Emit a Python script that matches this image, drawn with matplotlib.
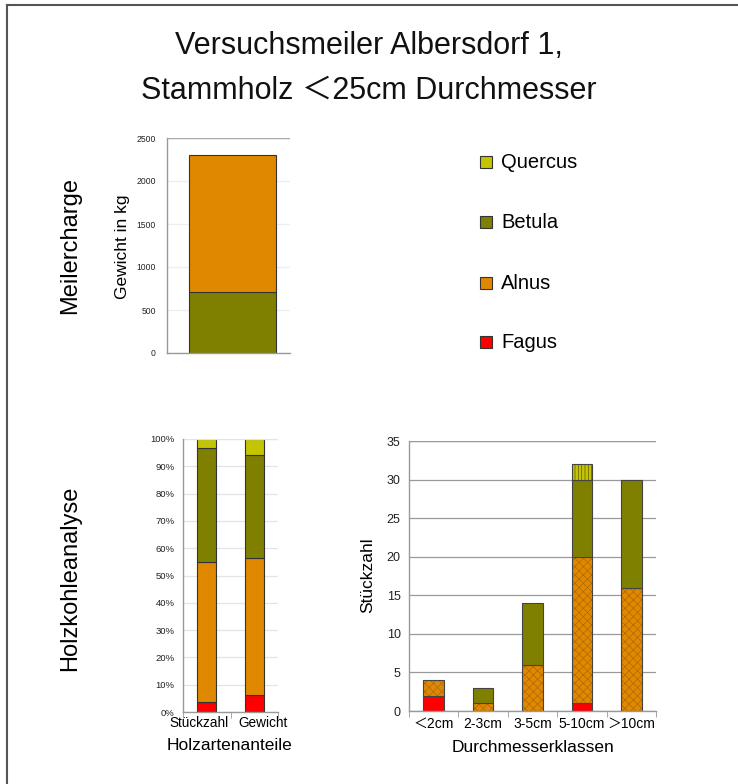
import matplotlib
matplotlib.use("Agg")
import matplotlib.pyplot as plt
from matplotlib.patches import Rectangle
from matplotlib.lines import Line2D
from matplotlib.transforms import ScaledTranslation
import numpy as np

plt.rcParams['font.family'] = ['Liberation Sans', 'Noto Sans CJK JP', 'DejaVu Sans']
plt.rcParams['hatch.linewidth'] = 0.5

# ---------------- data ----------------
title_lines = ["Versuchsmeiler Albersdorf 1,", "Stammholz ＜25cm Durchmesser"]

species = ['Fagus', 'Alnus', 'Betula', 'Quercus']
species_colors = {'Fagus': '#ff0000', 'Alnus': '#e08800', 'Betula': '#808000', 'Quercus': '#c4c400'}

# Meilercharge (kg), stacked bottom to top
charge_species = ['Betula', 'Alnus']
charge_kg = [710, 1590]
charge_ticks = [0, 500, 1000, 1500, 2000, 2500]

# Holzartenanteile (%)
anteil_categories = ['Stückzahl', 'Gewicht']
anteil_fagus = [3.5, 6.2]
anteil_alnus = [51.3, 50.1]
anteil_betula = [41.9, 37.7]
anteil_quercus = [3.3, 6.0]

# Durchmesserklassen (Stückzahl)
diam_classes = ['＜2cm', '2-3cm', '3-5cm', '5-10cm', '＞10cm']
count_fagus = [2, 0, 0, 1, 0]
count_alnus = [2, 1, 6, 19, 16]
count_betula = [0, 2, 8, 10, 14]
count_quercus = [0, 0, 0, 2, 0]

# ---------------- layout helpers ----------------
W, H = 738, 784
fig = plt.figure(figsize=(W / 100, H / 100), dpi=100)
fig.patch.set_facecolor('white')

def fx(x):
    return x / W

def fy(y):
    return 1 - y / H

def axes_px(x0, y0, x1, y1):
    return fig.add_axes([fx(x0), fy(y1), fx(x1) - fx(x0), (y1 - y0) / H])

# border (top and left)
fig.add_artist(Line2D([fx(7), fx(738)], [fy(5), fy(5)], color='#555555', lw=1.5))
fig.add_artist(Line2D([fx(7), fx(7)], [fy(5), fy(784)], color='#555555', lw=1.5))

# title
fig.text(0.5, fy(46), title_lines[0], ha='center', va='center', fontsize=22, color='#111111')
fig.text(0.5, fy(91), title_lines[1], ha='center', va='center', fontsize=22, color='#111111')

# section labels
fig.text(fx(70), fy(246), 'Meilercharge', rotation=90, ha='center', va='center', fontsize=17)
fig.text(fx(70), fy(578), 'Holzkohleanalyse', rotation=90, ha='center', va='center', fontsize=17)

def style_axes(ax, gridcolor):
    for s in ['top', 'right']:
        ax.spines[s].set_visible(False)
    for s in ['left', 'bottom']:
        ax.spines[s].set_color('#999999')
        ax.spines[s].set_linewidth(1.0)
    ax.set_axisbelow(True)
    ax.yaxis.grid(True, color=gridcolor, lw=0.9)
    ax.tick_params(axis='y', length=0, colors='#222222')

# ---------------- top chart ----------------
ax1 = axes_px(167, 138, 290, 353)
style_axes(ax1, '#eeeeee')
bottom = 0
for sp, v in zip(charge_species, charge_kg):
    ax1.bar([0], [v], bottom=bottom, width=0.77, color=species_colors[sp],
            edgecolor='#333333', linewidth=0.8)
    bottom += v
ax1.set_xlim(-0.58, 0.51)
ax1.set_ylim(0, 2500)
ax1.set_yticks(charge_ticks)
ax1.tick_params(axis='y', labelsize=6.2, pad=8)
ax1.set_xticks([])
ax1.axhline(2500, color='#aaaaaa', lw=1.0)
fig.text(fx(122), fy(247), 'Gewicht in kg', rotation=90, ha='center', va='center', fontsize=12.5)

# legend
legend_rows = [('Quercus', 162), ('Betula', 222), ('Alnus', 283), ('Fagus', 342)]
for name, yc in legend_rows:
    fig.add_artist(Rectangle((fx(480), fy(yc + 6)), 12 / W, 12 / H,
                             facecolor=species_colors[name], edgecolor='#333333', lw=0.8))
    fig.text(fx(501), fy(yc), name, ha='left', va='center', fontsize=14.5)

# ---------------- bottom-left chart ----------------
ax2 = axes_px(183, 439, 278, 712)
style_axes(ax2, '#e4e4e4')
x2 = np.arange(len(anteil_categories))
bottom = np.zeros(len(anteil_categories))
for sp, vals in zip(species, [anteil_fagus, anteil_alnus, anteil_betula, anteil_quercus]):
    vals = np.array(vals)
    ax2.bar(x2, vals, bottom=bottom, width=0.4, color=species_colors[sp],
            edgecolor='#333333', linewidth=0.8)
    bottom += vals
ax2.set_xlim(-0.5, 1.5)
ax2.set_ylim(0, 100)
ax2.set_yticks(np.arange(0, 101, 10))
ax2.set_yticklabels([f'{v}%' for v in range(0, 101, 10)])
ax2.tick_params(axis='y', labelsize=6.8, pad=6)
ax2.set_xticks(x2)
ax2.set_xticklabels(anteil_categories, fontsize=9.8)
ax2.tick_params(axis='x', length=0, pad=3)
# spread the two category labels apart so they do not collide
for lbl, dx in zip(ax2.get_xticklabels(), [-8, 9]):
    lbl.set_transform(lbl.get_transform() + ScaledTranslation(dx / 100, 0, fig.dpi_scale_trans))
ax2.set_xticks([-0.5, 0.5, 1.5], minor=True)
ax2.tick_params(axis='x', which='minor', length=4, color='#999999', direction='out')
ax2.axhline(100, color='#e4e4e4', lw=0.9)
fig.text(fx(230), fy(746), 'Holzartenanteile', ha='center', va='center', fontsize=12.5)

# ---------------- bottom-right chart ----------------
ax3 = axes_px(409, 441, 656, 711)
style_axes(ax3, '#999999')
x3 = np.arange(len(diam_classes))
bottom = np.zeros(len(diam_classes))
hatch_map = {'Fagus': None, 'Alnus': 'xxxx', 'Betula': None, 'Quercus': '|||||'}
hatch_col = {'Fagus': '#333333', 'Alnus': '#b06800', 'Betula': '#333333', 'Quercus': '#5a5a00'}
for sp, vals in zip(species, [count_fagus, count_alnus, count_betula, count_quercus]):
    vals = np.array(vals, dtype=float)
    mask = vals > 0
    ax3.bar(x3[mask], vals[mask], bottom=bottom[mask], width=0.42, color=species_colors[sp],
            edgecolor=hatch_col[sp], hatch=hatch_map[sp], linewidth=0.0)
    ax3.bar(x3[mask], vals[mask], bottom=bottom[mask], width=0.42, fill=False,
            edgecolor='#444444', linewidth=0.8)
    bottom += vals
ax3.set_xlim(-0.5, 4.5)
ax3.set_ylim(0, 35)
ax3.set_yticks(np.arange(0, 36, 5))
ax3.tick_params(axis='y', labelsize=9, pad=6)
ax3.set_xticks(x3)
ax3.set_xticklabels(diam_classes, fontsize=10)
ax3.tick_params(axis='x', length=0, pad=4)
ax3.set_xticks(np.arange(-0.5, 4.6, 1), minor=True)
ax3.tick_params(axis='x', which='minor', length=4, color='#999999', direction='out')
ax3.axhline(35, color='#999999', lw=0.9)
fig.text(fx(368), fy(575), 'Stückzahl', rotation=90, ha='center', va='center', fontsize=12.5)
fig.text(fx(533), fy(747), 'Durchmesserklassen', ha='center', va='center', fontsize=12.5)

fig.savefig('out.png', dpi=100)
